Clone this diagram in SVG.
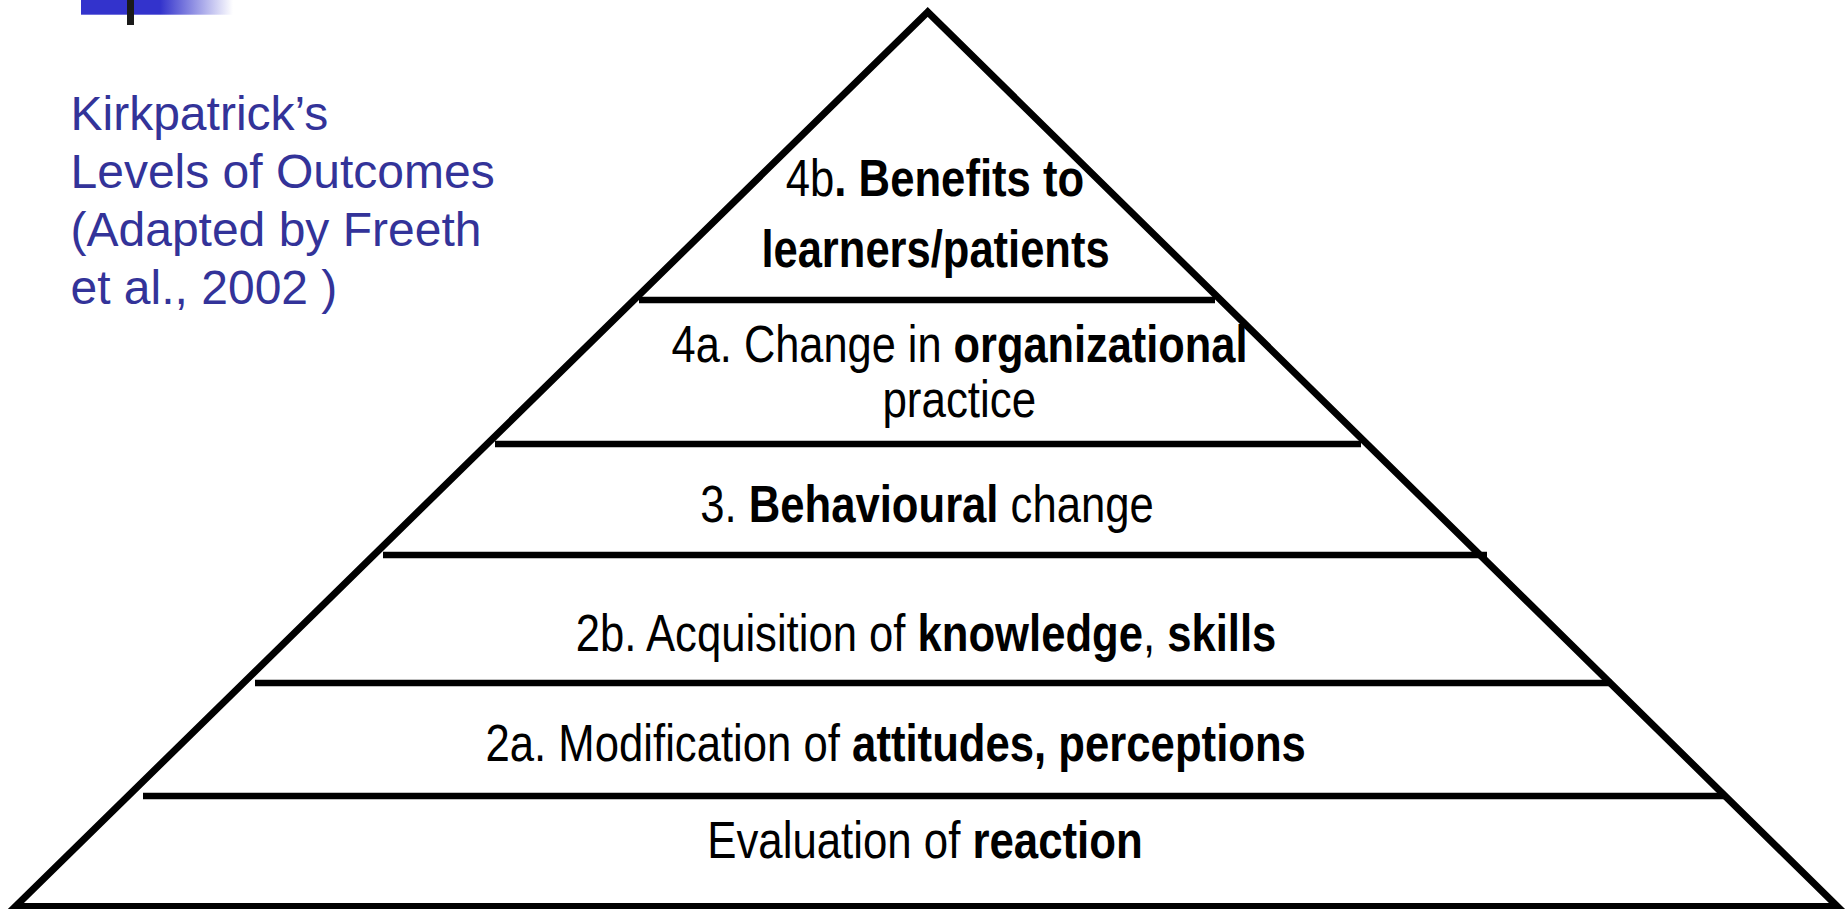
<svg xmlns="http://www.w3.org/2000/svg" width="1848" height="909" viewBox="0 0 1848 909">
  <defs>
    <linearGradient id="barFade" x1="0" y1="0" x2="1" y2="0">
      <stop offset="0" stop-color="#3333cc"/>
      <stop offset="0.52" stop-color="#3333cc"/>
      <stop offset="1" stop-color="#ffffff"/>
    </linearGradient>
  </defs>
  <style>
    .title { font-family: "Liberation Sans", Arial, sans-serif; font-size: 48px; fill: #333399; }
    .lvl { font-family: "Liberation Sans", Arial, sans-serif; font-size: 52px; fill: #000; text-anchor: middle; }
    .b { font-weight: bold; }
    .edge { fill: none; stroke: #000; stroke-width: 7; stroke-linejoin: miter; stroke-miterlimit: 10; }
    .tier { stroke: #000; stroke-width: 6.5; }
  </style>

  <rect width="1848" height="909" fill="#ffffff"/>

  <!-- header accent -->
  <g id="accent">
    <rect x="81" y="0" width="152" height="14.7" fill="url(#barFade)"/>
    <rect x="127" y="0" width="7" height="25" fill="#1a1a1a"/>
  </g>

  <!-- heading -->
  <g id="heading">
    <text class="title" x="70.5" y="130">Kirkpatrick’s</text>
    <text class="title" x="70.5" y="188">Levels of Outcomes</text>
    <text class="title" x="70.5" y="246">(Adapted by Freeth</text>
    <text class="title" x="70.5" y="304">et al., 2002 )</text>
  </g>

  <!-- pyramid outline and tier dividers -->
  <g id="connectors">
    <polygon class="edge" points="927.7,12 15.4,906.5 1837.5,906.5"/>
    <line class="tier" x1="639" y1="300" x2="1215" y2="300"/>
    <line class="tier" x1="495" y1="444" x2="1361" y2="444"/>
    <line class="tier" x1="383" y1="555" x2="1487" y2="555"/>
    <line class="tier" x1="255" y1="683" x2="1612" y2="683"/>
    <line class="tier" x1="143" y1="796" x2="1724" y2="796"/>
  </g>

  <g id="level-4b">
    <text class="lvl" transform="translate(935,196) scale(0.84,1)">4b<tspan class="b">. Benefits to</tspan></text>
    <text class="lvl b" transform="translate(935.5,267) scale(0.837,1)">learners/patients</text>
  </g>

  <g id="level-4a">
    <text class="lvl" transform="translate(959.5,362) scale(0.834,1)">4a. Change in <tspan class="b">organizational</tspan></text>
    <text class="lvl" transform="translate(959.3,417) scale(0.845,1)">practice</text>
  </g>

  <g id="level-3">
    <text class="lvl" transform="translate(927,522) scale(0.839,1)">3. <tspan class="b">Behavioural</tspan> change</text>
  </g>

  <g id="level-2b">
    <text class="lvl" transform="translate(926,651) scale(0.839,1)">2b. Acquisition of <tspan class="b">knowledge</tspan>, <tspan class="b">skills</tspan></text>
  </g>

  <g id="level-2a">
    <text class="lvl" transform="translate(895.7,761) scale(0.84,1)">2a. Modification of <tspan class="b">attitudes, perceptions</tspan></text>
  </g>

  <g id="level-1">
    <text class="lvl" transform="translate(925,858) scale(0.842,1)">Evaluation of <tspan class="b">reaction</tspan></text>
  </g>
</svg>
